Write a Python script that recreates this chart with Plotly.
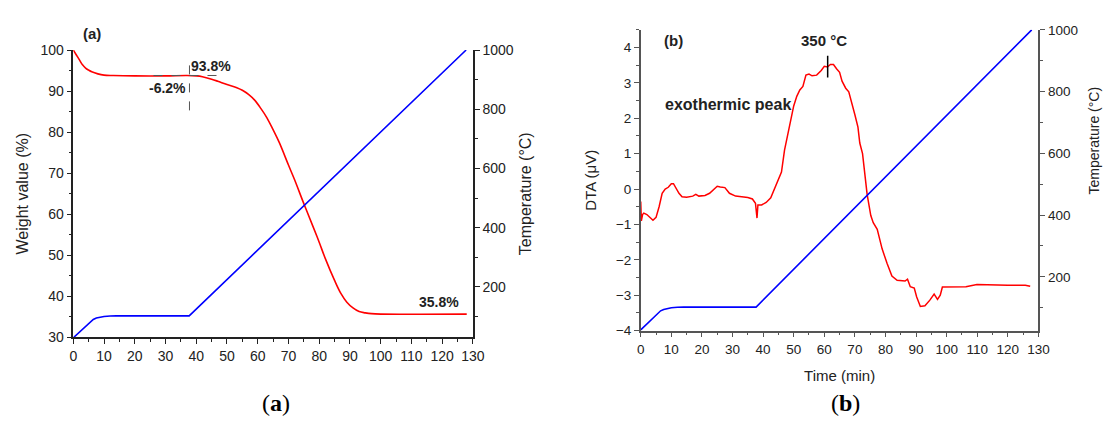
import plotly.graph_objects as go

W, H = 1116, 421

# ---------------- data ----------------
time_a = [0, 1, 2, 3, 4, 5, 6, 8, 10, 13, 20, 30, 37, 40, 42, 45, 47, 50, 53, 55, 57, 59, 61, 63,
          65, 67, 70, 72, 75, 78, 80, 82, 85, 87, 89, 91, 93, 95, 97, 100, 128]
weight_a = [100, 98.8, 97.6, 96.4, 95.6, 95.1, 94.7, 94.2, 93.9, 93.8, 93.7, 93.7, 93.8, 93.7, 93.5,
            92.9, 92.4, 91.6, 90.9, 90.2, 89.2, 87.8, 85.8, 83.5, 80.6, 77.5, 72.0, 68.4, 62.6,
            57.0, 53.2, 49.2, 43.9, 40.8, 38.6, 37.2, 36.3, 36.0, 35.8, 35.7, 35.7]

time_temp = [0, 2, 4, 5.5, 6.5, 7.5, 8.5, 10, 12, 14, 37.7, 127.8]
temperature = [28, 48, 68, 83, 90, 94.5, 97.5, 100, 101.5, 102, 102, 1000]

time_b = [0, 0.2, 0.6, 1, 2, 3, 4, 5, 6, 7, 8, 9, 10, 10.7, 11.5, 12.5, 13.5, 15, 17, 18, 19, 21,
          22.5, 24, 25, 26, 27.5, 29, 31, 33, 35, 36.5, 37.5, 38, 38.3, 39.5, 41, 42.5, 44, 45, 46,
          47, 48, 49, 50, 51, 52, 53, 54, 55, 56, 57.5, 59, 60, 61, 62, 63, 64, 65, 65.8, 67, 68,
          69, 70, 71, 71.6, 72.5, 73.2, 74, 75.2, 76, 77.3, 78.9, 80.5, 82.1, 83.8, 86.4, 87.2,
          88.1, 89.4, 90.2, 91.4, 92.9, 94.5, 95.9, 97, 97.9, 98.6, 101, 106.3, 109.9, 113.6, 120,
          125.7, 127.3]
dta_b = [-0.35, -0.9, -0.72, -0.68, -0.72, -0.8, -0.88, -0.8, -0.5, -0.12, 0.0, 0.05, 0.15, 0.15,
         0.02, -0.12, -0.22, -0.23, -0.2, -0.15, -0.2, -0.18, -0.12, 0.0, 0.08, 0.06, 0.04, -0.12,
         -0.2, -0.22, -0.24, -0.28, -0.4, -0.82, -0.45, -0.45, -0.38, -0.25, 0.05, 0.25, 0.48, 1.1,
         1.55, 1.95, 2.35, 2.62, 2.8, 2.9, 3.22, 3.25, 3.2, 3.22, 3.35, 3.47, 3.45, 3.52, 3.52,
         3.4, 3.3, 3.05, 2.85, 2.75, 2.45, 2.1, 1.75, 1.3, 1.0, 0.5, -0.15, -0.75, -0.95, -1.14,
         -1.69, -2.1, -2.46, -2.58, -2.6, -2.55, -2.76, -2.8, -3.05, -3.32, -3.3, -3.14, -2.97,
         -3.12, -3.0, -2.77, -2.77, -2.76, -2.7, -2.71, -2.72, -2.72, -2.75]

# ---------------- helpers ----------------
def px(x):
    return x / W

def py(y):
    return (H - y) / H

FONT = "Liberation Sans, Arial, sans-serif"
TXT = "#222222"

fig = go.Figure()
fig.add_trace(go.Scatter(x=time_a, y=weight_a, mode="lines", line=dict(color="#ff0000", width=1.6),
                         xaxis="x", yaxis="y", showlegend=False, line_shape="spline"))
fig.add_trace(go.Scatter(x=time_temp, y=temperature, mode="lines", line=dict(color="#0000ff", width=1.6),
                         xaxis="x", yaxis="y2", showlegend=False))
fig.add_trace(go.Scatter(x=time_b, y=dta_b, mode="lines", line=dict(color="#ff0000", width=1.5),
                         xaxis="x2", yaxis="y3", showlegend=False))
fig.add_trace(go.Scatter(x=time_temp, y=temperature, mode="lines", line=dict(color="#0000ff", width=1.6),
                         xaxis="x2", yaxis="y4", showlegend=False))

def axis_common(color, dtick, minor, rng, fsize=14, **kw):
    d = dict(range=rng, dtick=dtick, tick0=0, ticks="outside", ticklen=5, tickwidth=1.3,
             tickcolor=color, showline=True, linecolor=color, linewidth=1.5, showgrid=False,
             zeroline=False, tickfont=dict(family=FONT, size=fsize, color=TXT),
             minor=dict(dtick=minor, tick0=0, ticks="outside", ticklen=3, tickwidth=1.2,
                        tickcolor=color, showgrid=False),
             mirror=False)
    d.update(kw)
    return d

CA = "#222222"
CB = "#555555"
dom_ax = [px(70.3), px(475.7)]
dom_ay = [py(342.5), py(43.7)]
dom_bx = [px(646), px(1049.5)]
dom_by = [py(335.3), py(22.7)]

fig.update_layout(
    width=W, height=H, margin=dict(l=0, r=0, t=0, b=0),
    paper_bgcolor="white", plot_bgcolor="white",
    xaxis=axis_common(CA, 10, 5, [0, 130], domain=dom_ax, anchor="y"),
    yaxis=axis_common(CA, 10, 5, [30, 100], domain=dom_ay, anchor="x",
                      title=dict(text="Weight value (%)", font=dict(family=FONT, size=16, color=TXT), standoff=8)),
    yaxis2=axis_common(CA, 200, 100, [29, 1000], overlaying="y", side="right", anchor="x",
                       title=dict(text="Temperature (°C)", font=dict(family=FONT, size=16, color=TXT), standoff=7)),
    xaxis2=axis_common(CB, 10, 5, [0, 130], fsize=13.5, domain=dom_bx, anchor="y3",
                       title=dict(text="Time (min)", font=dict(family=FONT, size=15, color=TXT), standoff=15)),
    yaxis3=axis_common(CB, 1, 0.5, [-4, 4.5], fsize=13.5, domain=dom_by, anchor="x2",
                       title=dict(text="DTA (μV)", font=dict(family=FONT, size=15, color=TXT), standoff=16)),
    yaxis4=axis_common(CB, 200, 100, [26, 1000], fsize=13.5, overlaying="y3", side="right", anchor="x2"),
)

# annotation guide lines
vline_a_t, vline_a_lo, vline_a_hi = 37.8, 85.3, 98.2
hline_a_w, hline_a_t0, hline_a_t1 = 93.8, 26.1, 47.4
peak_t, peak_lo, peak_hi = 61.1, 3.15, 3.77

fig.add_shape(type="line", xref="x", yref="y", x0=vline_a_t, x1=vline_a_t, y0=vline_a_lo, y1=vline_a_hi,
              line=dict(color="#555555", width=1, dash="dash"))
fig.add_shape(type="line", xref="x", yref="y", x0=hline_a_t0, x1=hline_a_t1, y0=hline_a_w, y1=hline_a_w,
              line=dict(color="#555555", width=1, dash="dash"))
fig.add_shape(type="line", xref="x2", yref="y3", x0=peak_t, x1=peak_t, y0=peak_lo, y1=peak_hi,
              line=dict(color="#000000", width=1.5))

def ann(text, x, y, size=14, bold=True, xanchor="center", family=FONT, color=TXT, angle=0):
    fig.add_annotation(text=f"<b>{text}</b>" if bold else text, x=px(x), y=py(y), xref="paper", yref="paper",
                       showarrow=False, xanchor=xanchor, yanchor="middle", textangle=angle,
                       font=dict(family=family, size=size, color=color))

ann("(a)", 89.5, 26.7, size=15)
ann("93.8%", 210.4, 60.7)
ann("-6.2%", 165.9, 83.3)
ann("35.8%", 440.9, 305.7)
ann("(b)", 679, 33.3, size=15)
ann("350 °C", 832, 33.3, size=15)
ann("exothermic peak", 669, 100, size=16, xanchor="left")
# right axis title of panel (b), placed as in the original (slightly above centre, at the page edge)
ann("Temperature (°C)", 1106, 137.5, size=14, bold=False, angle=-90)
ann("(<b>a</b>)", 276, 411, size=24, bold=False, family="Liberation Serif, DejaVu Serif, serif", color="#000000")
ann("(<b>b</b>)", 854, 411, size=24, bold=False, family="Liberation Serif, DejaVu Serif, serif", color="#000000")

fig.write_html("out.html")
